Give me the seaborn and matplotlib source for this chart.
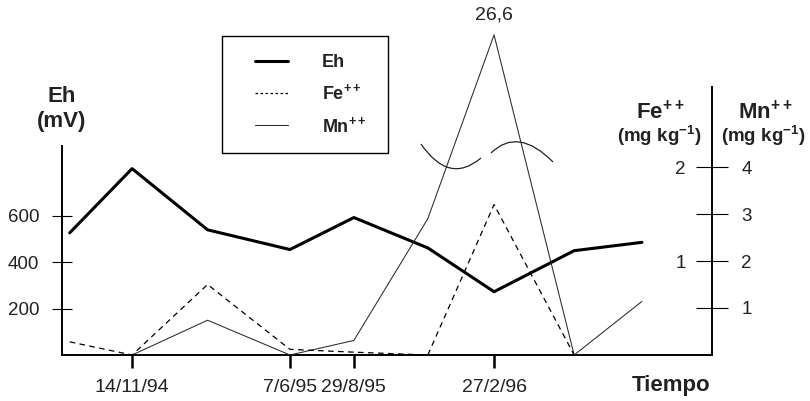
import numpy as np
import pandas as pd
import matplotlib
matplotlib.use("Agg")
import matplotlib.pyplot as plt
import seaborn as sns
from matplotlib.lines import Line2D
from matplotlib.path import Path
from matplotlib.patches import PathPatch, Rectangle
from matplotlib.ticker import NullLocator

# Sampling dates and measured values
fechas = pd.to_datetime(["1994-08-25", "1994-11-14", "1995-02-20", "1995-06-07",
                         "1995-08-29", "1995-12-03", "1996-02-27", "1996-06-10",
                         "1996-09-06"])
eh = [527, 804, 540, 455, 593, 462, 273, 450, 486]            # mV
fe = [0.14, 0.0, 0.75, 0.06, 0.03, 0.0, 1.60, 0.0, np.nan]     # mg kg-1
mn = [np.nan, 0.0, 0.74, 0.0, 0.31, 2.90, 26.6, 0.0, 1.14]     # mg kg-1

tick_fechas = pd.to_datetime(["1994-11-14", "1995-06-07", "1995-08-29", "1996-02-27"])
tick_labels = ["14/11/94", "7/6/95", "29/8/95", "27/2/96"]
eh_ticks = [200, 400, 600]
fe_ticks = [1, 2]
mn_ticks = [1, 2, 3, 4]

# Broken Mn axis: linear up to the break, compressed above it
MN_BREAK = 4.3
MN_K = 0.1126


def mn_fwd(v):
    v = np.asarray(v, dtype=float)
    return np.where(v <= MN_BREAK, v, MN_BREAK + (v - MN_BREAK) * MN_K)


def mn_inv(u):
    u = np.asarray(u, dtype=float)
    return np.where(u <= MN_BREAK, u, MN_BREAK + (u - MN_BREAK) / MN_K)


sns.set_theme(style="ticks")
plt.rcParams["font.family"] = ["Liberation Sans", "DejaVu Sans"]
plt.rcParams["mathtext.fontset"] = "custom"
plt.rcParams["mathtext.rm"] = "Liberation Sans"
plt.rcParams["mathtext.bf"] = "Liberation Sans:bold"

W, H = 810, 401
fig = plt.figure(figsize=(W / 100, H / 100), dpi=100)
fig.patch.set_facecolor("white")
x0, x1, y_bot, y_top = 62, 712, 355, 20
ax = fig.add_axes([x0 / W, 1 - y_bot / H, (x1 - x0) / W, (y_bot - y_top) / H])
ax_h = y_bot - y_top

df = pd.DataFrame({"fecha": fechas, "Eh": eh, "Fe": fe, "Mn": mn})

# Eh (left axis)
sns.lineplot(data=df, x="fecha", y="Eh", ax=ax, color="black", lw=2.2)

# Mn (right axis, broken scale)
ax_mn = ax.twinx()
ax_mn.set_yscale("function", functions=(mn_fwd, mn_inv))
sns.lineplot(data=df, x="fecha", y="Mn", ax=ax_mn, color="#2a2a2a", lw=0.75)

# Fe (shares the right spine, labels on its inner side)
ax_fe = ax.twinx()
sns.lineplot(data=df, x="fecha", y="Fe", ax=ax_fe, color="black", lw=0.9,
             linestyle=(0, (4.5, 3.5)))

ax.set_xlim(pd.Timestamp("1994-08-15"), pd.Timestamp("1996-12-06"))
ax.set_ylim(0, ax_h / 0.2318)
ax_mn.set_ylim(0, float(mn_inv(ax_h / 47.0)))
ax_fe.set_ylim(0, ax_h / 94.0)

for a in (ax, ax_mn, ax_fe):
    a.set_xlabel("")
    a.set_ylabel("")
    a.grid(False)
    for s in a.spines.values():
        s.set_visible(False)

# left / bottom axes
ax.spines["left"].set_visible(True)
ax.spines["bottom"].set_visible(True)
ax.spines["left"].set_bounds(0, 900)
ax.spines["left"].set_linewidth(1.4)
ax.spines["bottom"].set_linewidth(1.4)
ax.spines["left"].set_color("black")
ax.spines["bottom"].set_color("black")
ax.set_yticks(eh_ticks)
ax.set_xticks(tick_fechas)
ax.set_xticklabels(tick_labels)
ax.xaxis.set_minor_locator(NullLocator())
ax.tick_params(axis="y", direction="inout", length=15, width=0.8, labelsize=13.5,
               pad=9, colors="black", labelcolor="#222222")
ax.tick_params(axis="x", direction="out", length=9.4, width=1.8, labelsize=14,
               pad=8, colors="black", labelcolor="#222222")

# right spine with Mn ticks
ax_mn.spines["right"].set_visible(True)
ax_mn.spines["right"].set_linewidth(1.4)
ax_mn.spines["right"].set_color("black")
ax_mn.spines["right"].set_bounds(0, 16.74)
ax_mn.set_yticks(mn_ticks)
ax_mn.set_yticklabels([str(t) for t in mn_ticks])
ax_mn.yaxis.set_minor_locator(NullLocator())
ax_mn.tick_params(axis="y", direction="inout", length=23, width=0.8, labelsize=13.5,
                  pad=9.5, colors="black", labelcolor="#222222")

# Fe labels on the inner side of the right spine
ax_fe.yaxis.tick_left()
ax_fe.spines["left"].set_position(("axes", 1.0))
ax_fe.set_yticks(fe_ticks)
ax_fe.set_yticklabels([str(t) for t in fe_ticks])
ax_fe.yaxis.set_minor_locator(NullLocator())
ax_fe.tick_params(axis="y", direction="out", length=0, labelsize=13.5, pad=19,
                  labelcolor="#222222")

# value label on the Mn peak
i_max = int(np.nanargmax(mn))
ax_mn.annotate(f"{mn[i_max]:.1f}".replace(".", ","), xy=(fechas[i_max], mn[i_max]),
               xytext=(0, 8), textcoords="offset points", ha="center", va="bottom",
               fontsize=14, color="#222222")

# scale-break marks across the Mn peak
def to_ax(px, py):
    return ((px - x0) / (x1 - x0), (y_bot - py) / ax_h)

verts = [to_ax(421, 144), to_ax(449, 185), to_ax(481, 158),
         to_ax(491, 153), to_ax(518, 126.5), to_ax(553, 162)]
codes = [Path.MOVETO, Path.CURVE3, Path.CURVE3,
         Path.MOVETO, Path.CURVE3, Path.CURVE3]
ax_fe.add_patch(PathPatch(Path(verts, codes), fill=False, lw=0.9, color="#222222",
                          transform=ax.transAxes, clip_on=False))

# axis titles
def ftext(px, py, s, size, **kw):
    fig.text(px / W, 1 - py / H, s, fontsize=size, fontweight="bold",
             ha=kw.pop("ha", "center"), va=kw.pop("va", "center"),
             color="#222222", **kw)

ftext(62, 97, "Eh", 16)
ftext(62, 122, "(mV)", 16)
ftext(660, 112, r"Fe$^{\mathbf{++}}$", 16)
ftext(659, 136, r"(mg kg$^{\mathbf{-1}}$)", 13.5)
ftext(765, 112, r"Mn$^{\mathbf{++}}$", 16)
ftext(763, 136, r"(mg kg$^{\mathbf{-1}}$)", 13.5)
ftext(710, 386, "Tiempo", 16, ha="right")

# legend box and entries
fig.add_artist(Rectangle((222 / W, 1 - 153 / H), 166 / W, 117 / H,
                         transform=fig.transFigure, facecolor="white",
                         edgecolor="black", lw=1.0, zorder=3))
handles = [Line2D([], [], color="black", lw=2.2),
           Line2D([], [], color="black", lw=0.9, linestyle=(0, (2, 2))),
           Line2D([], [], color="#2a2a2a", lw=0.75)]
labels = ["Eh", r"Fe$^{\mathbf{++}}$", r"Mn$^{\mathbf{++}}$"]
leg = fig.legend(handles, labels, loc="upper left",
                 bbox_to_anchor=(255 / W, 1 - 54 / H), bbox_transform=fig.transFigure,
                 frameon=False, borderpad=0, handlelength=1.85, handletextpad=1.85,
                 labelspacing=0.68, borderaxespad=0,
                 prop={"weight": "bold", "size": 13})
leg.set_zorder(4)
for t in leg.get_texts():
    t.set_color("#222222")

fig.savefig("out.png", dpi=100)
